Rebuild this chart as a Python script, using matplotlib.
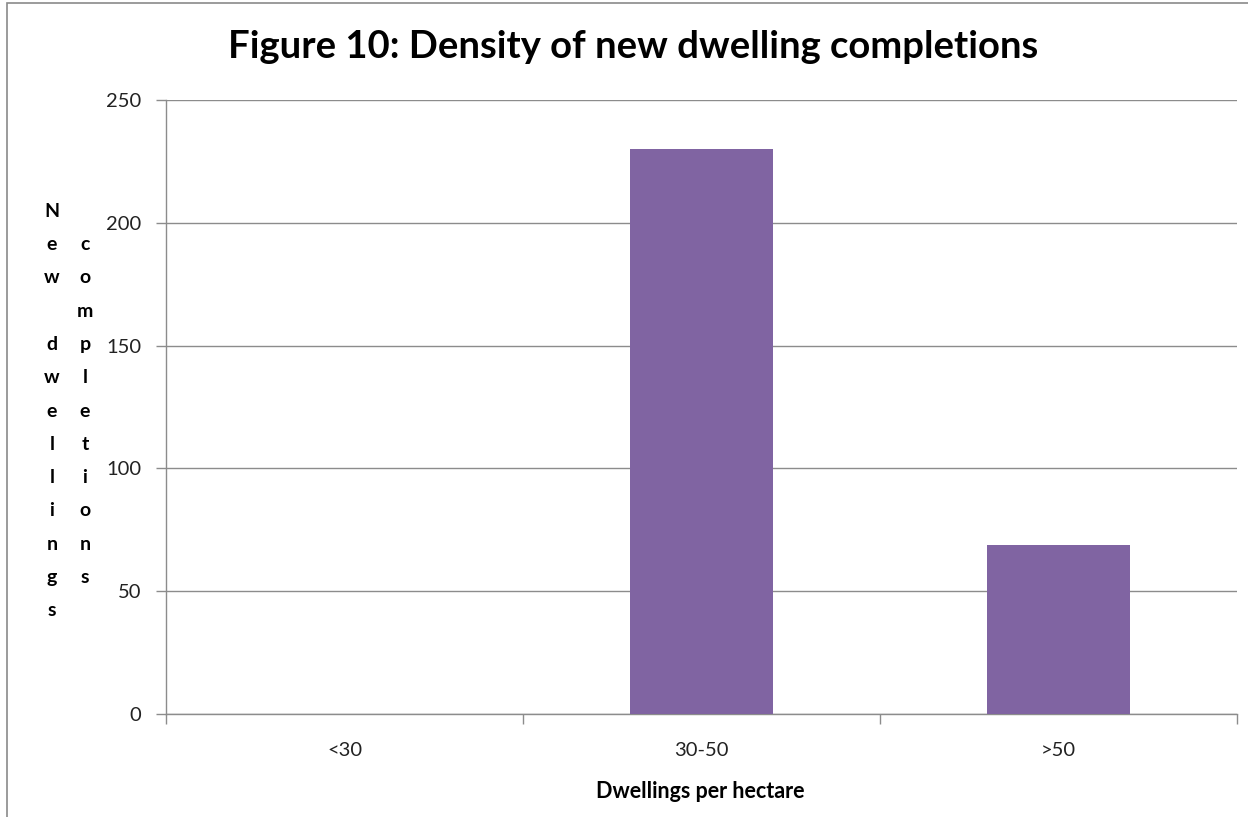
#!/usr/bin/env python3
"""Figure 10: Density of new dwelling completions - bar chart redraw."""

import matplotlib
matplotlib.use("Agg")
import matplotlib.pyplot as plt
from matplotlib.patches import Rectangle
import numpy as np

# Data
categories = ["<30", "30-50", ">50"]
completions = [0, 230, 69]
y_ticks = [0, 50, 100, 150, 200, 250]

title = "Figure 10: Density of new dwelling completions"
x_title = "Dwellings per hectare"
y_title_lines = ["New dwellings", "completions"]

BAR_COLOR = "#8064A2"
GRID_COLOR = "#8C8C8C"
FONT = ["Lato", "DejaVu Sans"]

W, H = 1248, 817
fig = plt.figure(figsize=(W / 100, H / 100), dpi=100)
fig.patch.set_facecolor("white")

# plot area in pixel terms
left, right, top, bottom = 166, 1237, 100, 714
ax = fig.add_axes([left / W, (H - bottom) / H, (right - left) / W, (bottom - top) / H])

x = np.arange(len(categories))
ax.bar(x, completions, width=0.4, color=BAR_COLOR, zorder=3)

ax.set_xlim(-0.5, len(categories) - 0.5)
ax.set_ylim(0, 250)
ax.set_yticks(y_ticks)
ax.yaxis.grid(True, color=GRID_COLOR, linewidth=1)
ax.set_axisbelow(True)

# category labels centred, tick marks on the boundaries
ax.set_xticks(x)
ax.set_xticklabels(categories, fontsize=14.5, family=FONT, color="#222222")
ax.tick_params(axis="x", which="major", length=0, pad=20)
ax.set_xticks(np.arange(len(categories) + 1) - 0.5, minor=True)
ax.tick_params(axis="x", which="minor", length=7, color=GRID_COLOR, width=1)
ax.tick_params(axis="y", length=7, color=GRID_COLOR, width=1, pad=11,
               labelsize=14.5, labelcolor="#222222")
for lbl in ax.get_yticklabels():
    lbl.set_family(FONT)

for side in ["top", "right"]:
    ax.spines[side].set_visible(False)
for side in ["left", "bottom"]:
    ax.spines[side].set_color(GRID_COLOR)
    ax.spines[side].set_linewidth(1)

# titles
fig.text(633 / W, 1 - 47 / H, title, ha="center", va="center",
         fontsize=27.5, fontweight="bold", family=FONT, color="black")
fig.text(700 / W, 1 - 792 / H, x_title, ha="center", va="center",
         fontsize=15.5, fontweight="bold", family=FONT, color="black")

# stacked vertical y-axis title, two columns like the original
col_x = [52, 85]
step = 33.3
centre_y = 411
for cx, line in zip(col_x, y_title_lines):
    n = len(line)
    start = centre_y - step * (n - 1) / 2
    for i, ch in enumerate(line):
        if ch == " ":
            continue
        fig.text(cx / W, 1 - (start + i * step) / H, ch, ha="center", va="center",
                 fontsize=14, fontweight="bold", family=FONT, color="black")

# chart area border (left and top visible)
fig.patches.append(Rectangle((7 / W, -0.05), 1.2, 1 - 3 / H + 0.05,
                             transform=fig.transFigure, fill=False,
                             edgecolor="#8A8A8A", linewidth=1.2))

fig.savefig("out.png", dpi=100)
